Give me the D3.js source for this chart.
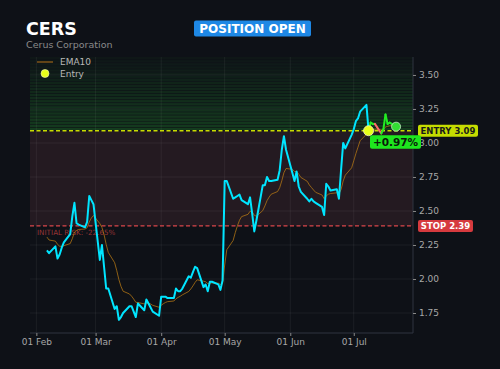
<!DOCTYPE html>
<html>
<head>
<meta charset="utf-8">
<script src="https://cdn.jsdelivr.net/npm/d3@7"></script>
<style>
  body { margin: 0; background: #0e1117; }
  svg { display: block; font-family: "DejaVu Sans", sans-serif; }
</style>
</head>
<body>
<div id="container"></div>
<script>
/* DATA */
const dates = [
  "2025-02-06","2025-02-07","2025-02-10","2025-02-11","2025-02-12","2025-02-13","2025-02-14",
  "2025-02-17","2025-02-18","2025-02-19","2025-02-20","2025-02-21","2025-02-24","2025-02-25",
  "2025-02-26","2025-02-27","2025-02-28",
  "2025-03-03","2025-03-04","2025-03-05","2025-03-06","2025-03-07","2025-03-10","2025-03-11",
  "2025-03-12","2025-03-13","2025-03-14","2025-03-17","2025-03-18","2025-03-19","2025-03-20",
  "2025-03-21","2025-03-24","2025-03-25","2025-03-26","2025-03-27","2025-03-28","2025-03-31",
  "2025-04-01","2025-04-02","2025-04-03","2025-04-04","2025-04-07","2025-04-08","2025-04-09",
  "2025-04-10","2025-04-11","2025-04-14","2025-04-15","2025-04-16","2025-04-17","2025-04-18",
  "2025-04-21","2025-04-22","2025-04-23","2025-04-24","2025-04-25","2025-04-28","2025-04-29",
  "2025-04-30",
  "2025-05-01","2025-05-02","2025-05-05","2025-05-06","2025-05-07","2025-05-08","2025-05-09",
  "2025-05-12","2025-05-13","2025-05-14","2025-05-15","2025-05-16","2025-05-19","2025-05-20",
  "2025-05-21","2025-05-22","2025-05-23","2025-05-26","2025-05-27","2025-05-28","2025-05-29",
  "2025-05-30",
  "2025-06-02","2025-06-03","2025-06-04","2025-06-05","2025-06-06","2025-06-09","2025-06-10",
  "2025-06-11","2025-06-12","2025-06-13","2025-06-16","2025-06-17","2025-06-18","2025-06-19",
  "2025-06-20","2025-06-23","2025-06-24","2025-06-25","2025-06-26","2025-06-27","2025-06-30",
  "2025-07-01","2025-07-02","2025-07-03","2025-07-04","2025-07-07","2025-07-08","2025-07-09",
  "2025-07-10","2025-07-11","2025-07-14","2025-07-15","2025-07-16","2025-07-17","2025-07-18",
  "2025-07-21"
]
const close = [
  2.21, 2.19, 2.24, 2.15, 2.18, 2.23, 2.27, 2.33, 2.46, 2.56, 2.41, 2.40, 2.38, 2.42, 2.61, 2.58, 2.55,
  2.14, 2.25, 2.09, 1.93, 1.93, 1.78, 1.80, 1.70, 1.72, 1.75, 1.80, 1.80, 1.76, 1.72, 1.82, 1.77, 1.85,
  1.82, 1.79, 1.76, 1.73,
  1.87, 1.87, 1.87, 1.86, 1.86, 1.93, 1.91, 1.91, 1.93, 2.02, 2.01, 2.05, 2.09, 2.08, 1.94, 1.96, 1.91,
  1.98, 1.98, 1.96, 1.92, 1.99,
  2.72, 2.72, 2.59, 2.60, 2.61, 2.62, 2.58, 2.55, 2.60, 2.48, 2.35, 2.43, 2.69, 2.69, 2.75, 2.72, 2.72,
  2.73, 2.80, 2.95, 3.05, 2.95,
  2.78, 2.72, 2.79, 2.68, 2.64, 2.59, 2.57, 2.59, 2.57, 2.56, 2.53, 2.47, 2.70, 2.68, 2.65, 2.66, 2.59,
  2.80, 3.00, 2.96, 3.06,
  3.10, 3.16, 3.18, 3.23, 3.28, 3.09, 3.15, 3.14, 3.14, 3.07, 3.10, 3.21, 3.14, 3.15, 3.12
]
const ticker = "CERS"
const company = "Cerus Corporation"
const entryDate = "2025-07-08"
const entryPrice = 3.09
const stopPrice = 2.39
const emaPeriod = 10
const emaStart = 2.33   // EMA value carried in from before the window
const yTicks = [1.75, 2.00, 2.25, 2.50, 2.75, 3.00, 3.25, 3.50]

/* CONSTANTS AND GLOBALS */
const width = 500
const height = 369
const mLeft = 30, mRight = 413, mTop = 57, mBottom = 333
const parse = d3.timeParse("%Y-%m-%d")

const data = dates.map((d, i) => ({ date: parse(d), close: close[i] }))
// exponential moving average of the close
const k = 2 / (emaPeriod + 1)
let prev = emaStart
data.forEach(d => { prev = d.close * k + prev * (1 - k); d.ema = prev })

const entryIdx = dates.indexOf(entryDate)
const last = data[data.length - 1]
const pnl = (last.close - entryPrice) / entryPrice * 100
const risk = (stopPrice - entryPrice) / entryPrice * 100

/* SCALES */
const xScale = d3.scaleTime()
  .domain([parse("2025-01-29"), parse("2025-07-29")])
  .range([mLeft, mRight])
const yScale = d3.scaleLinear()
  .domain([1.603, 3.632])
  .range([mBottom, mTop])

/* HTML ELEMENTS */
const svg = d3.select("#container")
  .append("svg")
  .attr("width", width)
  .attr("height", height)

svg.append("rect").attr("width", width).attr("height", height).attr("fill", "#0e1117")

// risk zone (stop -> entry)
svg.append("rect")
  .attr("x", mLeft).attr("width", mRight - mLeft)
  .attr("y", yScale(entryPrice))
  .attr("height", yScale(stopPrice) - yScale(entryPrice))
  .attr("fill", "#241a21")

// reward zone, banded gradient above entry
const bands = d3.range(24)
const bandH = (yScale(entryPrice) - mTop) / bands.length
svg.append("g").selectAll("rect")
  .data(bands)
  .join("rect")
  .attr("x", mLeft).attr("width", mRight - mLeft)
  .attr("y", i => yScale(entryPrice) - (i + 1) * bandH)
  .attr("height", bandH - 0.6)
  .attr("fill", "#1f7a2a")
  .attr("opacity", i => 0.36 * (1 - i / bands.length) + 0.04)

// grid
const monthTicks = xScale.ticks(d3.timeMonth.every(1))
svg.append("g").selectAll("line")
  .data(monthTicks)
  .join("line")
  .attr("x1", d => xScale(d)).attr("x2", d => xScale(d))
  .attr("y1", mTop).attr("y2", mBottom)
  .attr("stroke", "#ffffff").attr("stroke-opacity", 0.06)
svg.append("g").selectAll("line")
  .data(yTicks)
  .join("line")
  .attr("x1", mLeft).attr("x2", mRight)
  .attr("y1", d => yScale(d)).attr("y2", d => yScale(d))
  .attr("stroke", "#ffffff").attr("stroke-opacity", 0.06)

// spines
svg.append("line").attr("x1", mLeft).attr("x2", mRight).attr("y1", mBottom).attr("y2", mBottom)
  .attr("stroke", "#2e3440")
svg.append("line").attr("x1", mRight).attr("x2", mRight).attr("y1", mTop).attr("y2", mBottom)
  .attr("stroke", "#2e3440")

// axes
const xAxis = svg.append("g")
  .attr("transform", `translate(0,${mBottom})`)
  .call(d3.axisBottom(xScale).tickValues(monthTicks).tickFormat(d3.timeFormat("%d %b")).tickSize(3).tickPadding(3))
const yAxis = svg.append("g")
  .attr("transform", `translate(${mRight},0)`)
  .call(d3.axisRight(yScale).tickValues(yTicks).tickFormat(d3.format(".2f")).tickSize(3).tickPadding(3))
;[xAxis, yAxis].forEach(a => {
  a.select(".domain").remove()
  a.selectAll("line").attr("stroke", "#888")
  a.selectAll("text").attr("fill", "#a8a8a8").style("font-size", "9px").style("font-family", "DejaVu Sans")
})

// stop and entry lines
svg.append("line")
  .attr("x1", mLeft).attr("x2", mRight)
  .attr("y1", yScale(stopPrice)).attr("y2", yScale(stopPrice))
  .attr("stroke", "#d9464a").attr("stroke-width", 1.3).attr("stroke-dasharray", "4,2.5")
svg.append("line")
  .attr("x1", mLeft).attr("x2", mRight)
  .attr("y1", yScale(entryPrice)).attr("y2", yScale(entryPrice))
  .attr("stroke", "#c8dc00").attr("stroke-width", 1.3).attr("stroke-dasharray", "4,2.5")

svg.append("text")
  .attr("x", 37).attr("y", yScale(stopPrice) + 9.5)
  .attr("fill", "#b03c3c").attr("fill-opacity", 0.85)
  .style("font-size", "7.2px")
  .text(`INITIAL RISK: ${risk.toFixed(2)}%`)

// EMA
svg.append("path")
  .datum(data)
  .attr("d", d3.line().x(d => xScale(d.date)).y(d => yScale(d.ema)))
  .attr("fill", "none")
  .attr("stroke", "#b87a14").attr("stroke-opacity", 0.75).attr("stroke-width", 1)

// price before entry
svg.append("path")
  .datum(data.slice(0, entryIdx + 1))
  .attr("d", d3.line().x(d => xScale(d.date)).y(d => yScale(d.close)))
  .attr("fill", "none")
  .attr("stroke", "#00e5ff").attr("stroke-width", 2).attr("stroke-linejoin", "round")

// price after entry, green above entry, red below
const segs = d3.pairs(data.slice(entryIdx))
svg.append("g").selectAll("line")
  .data(segs)
  .join("line")
  .attr("x1", d => xScale(d[0].date)).attr("y1", d => yScale(d[0].close))
  .attr("x2", d => xScale(d[1].date)).attr("y2", d => yScale(d[1].close))
  .attr("stroke", d => d[1].close >= entryPrice ? "#22ee22" : "#ff6a6a")
  .attr("stroke-width", 2).attr("stroke-linecap", "round")

// entry and current markers
svg.append("circle")
  .attr("cx", xScale(data[entryIdx].date)).attr("cy", yScale(entryPrice)).attr("r", 5)
  .attr("fill", "#e8ff1a").attr("stroke", "#f4f4c0").attr("stroke-width", 0.8)
svg.append("circle")
  .attr("cx", xScale(last.date)).attr("cy", yScale(last.close)).attr("r", 4.5)
  .attr("fill", "#33dd33").attr("stroke", "#c8f0c8").attr("stroke-width", 0.8)

// right side badges
function badge(x, y, w, h, fill, color, txt, size) {
  svg.append("rect").attr("x", x).attr("y", y).attr("width", w).attr("height", h)
    .attr("rx", 2).attr("fill", fill)
  svg.append("text").attr("x", x + w / 2).attr("y", y + h / 2)
    .attr("text-anchor", "middle").attr("dominant-baseline", "central")
    .attr("fill", color).style("font-size", size + "px").style("font-weight", "bold")
    .text(txt)
}
badge(418, yScale(entryPrice) - 6, 60, 12, "#c5dc00", "#1a1a1a", `ENTRY ${entryPrice.toFixed(2)}`, 8.5)
badge(418, yScale(stopPrice) - 6, 55, 12, "#d63a3e", "#ffffff", `STOP ${stopPrice.toFixed(2)}`, 8.5)
badge(370, yScale(last.close) + 8.5, 51, 13.5, "#1ee61e", "#0a1a0a", `${pnl >= 0 ? "+" : ""}${pnl.toFixed(2)}%`, 10.5)

// title
svg.append("text").attr("x", 26).attr("y", 34.5)
  .attr("fill", "#ffffff").style("font-size", "17.5px").style("font-weight", "bold")
  .text(ticker)
svg.append("text").attr("x", 26).attr("y", 47.5)
  .attr("fill", "#8a8a8a").style("font-size", "9.5px")
  .text(company)
badge(194, 20.5, 117, 16, "#1e88e5", "#ffffff", "POSITION OPEN", 12)

// legend
svg.append("line").attr("x1", 37).attr("x2", 53).attr("y1", 62).attr("y2", 62)
  .attr("stroke", "#9a6418").attr("stroke-width", 1.2)
svg.append("text").attr("x", 60).attr("y", 62).attr("dominant-baseline", "central")
  .attr("fill", "#b8b8b8").style("font-size", "9px").text("EMA10")
svg.append("circle").attr("cx", 45).attr("cy", 73.5).attr("r", 4)
  .attr("fill", "#e8ff1a").attr("stroke", "#f4f4c0").attr("stroke-width", 0.6)
svg.append("text").attr("x", 60).attr("y", 73.5).attr("dominant-baseline", "central")
  .attr("fill", "#b8b8b8").style("font-size", "9px").text("Entry")
</script>
</body>
</html>
